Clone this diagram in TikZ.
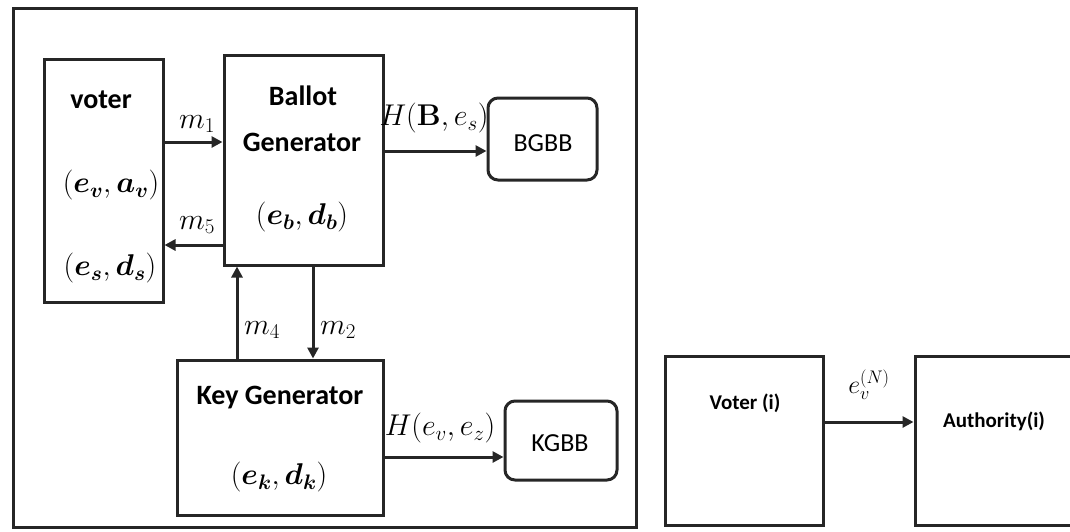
\RequirePackage{fix-cm}
\documentclass[tikz,border=0pt]{standalone}
\usepackage[no-math]{fontspec}
\usepackage{bm}
\setmainfont{Carlito}
\usetikzlibrary{arrows.meta}
\begin{document}
\begin{tikzpicture}[x=1pt,y=-1pt,
  box/.style={draw=black!85,line width=3pt,inner sep=0pt},
  rbox/.style={box,rounded corners=10pt},
  arr/.style={draw=black!85,line width=3pt,-{Triangle[length=11pt,width=11pt]}},
  lbl/.style={inner sep=0pt,font=\fontsize{30}{34}\selectfont},
  btxt/.style={inner sep=0pt,font=\fontsize{28}{32}\selectfont\bfseries},
  rtxt/.style={inner sep=0pt,font=\fontsize{26}{30}\selectfont},
  stxt/.style={inner sep=0pt,font=\fontsize{21}{25}\selectfont\bfseries},
]
\clip (0,0) rectangle (1070,531);
\useasboundingbox (0,0) rectangle (1070,531);
% outer frame
\node[box,minimum width=623pt,minimum height=519pt] (frame) at (324.5,267.5) {};
% boxes
\node[box,minimum width=119pt,minimum height=243pt] (voter) at (103.5,180.5) {};
\node[box,minimum width=159pt,minimum height=210pt] (bg) at (303.5,160) {};
\node[box,minimum width=206pt,minimum height=155pt] (kg) at (280,437.5) {};
\node[rbox,minimum width=109pt,minimum height=82pt] (bgbb) at (542.5,139) {};
\node[rbox,minimum width=112pt,minimum height=79pt] (kgbb) at (561,440.5) {};
\node[box,minimum width=158pt,minimum height=169pt] (vi) at (744,440.5) {};
\node[box,minimum width=170pt,minimum height=169pt] (auth) at (1000,440.5) {};
% box texts
\node[btxt] (tvoter) at (101,100) {voter};
\node[lbl] (tev) at (111,185) {$(\bm{e_v},\bm{a_v})$};
\node[lbl] (tes) at (110,268) {$(\bm{e_s},\bm{d_s})$};
\node[btxt] (tballot) at (303,96) {Ballot};
\node[btxt] (tgen) at (302,142) {Generator};
\node[lbl] (teb) at (302,217) {$(\bm{e_b},\bm{d_b})$};
\node[btxt] (tkg) at (280,398) {Key Generator};
\node[lbl] (tek) at (279,477) {$(\bm{e_k},\bm{d_k})$};
\node[rtxt] (tbgbb) at (543,143) {BGBB};
\node[rtxt] (tkgbb) at (560,443) {KGBB};
\node[stxt] (tvi) at (745,403) {Voter (i)};
\node[stxt] (tauth) at (994,421) {Authority(i)};
% connectors
\draw[arr] (voter.east |- 0,142) -- (bg.west |- 0,142);
\draw[arr] (bg.west |- 0,245) -- (voter.east |- 0,245);
\draw[arr] (kg.north -| 237,0) -- (bg.south -| 237,0);
\draw[arr] (bg.south -| 313,0) -- (kg.north -| 313,0);
\draw[arr] (bg.east |- 0,151) -- (bgbb.west |- 0,151);
\draw[arr] (kg.east |- 0,457) -- (kgbb.west |- 0,457);
\draw[arr] (vi.east |- 0,422) -- (auth.west |- 0,422);
% connector labels
\node[lbl] (lm1) at (197,124) {$m_1$};
\node[lbl] (lm5) at (197,225) {$m_5$};
\node[lbl] (lm4) at (262,330) {$m_4$};
\node[lbl] (lm2) at (338,330) {$m_2$};
\node[lbl] (lh1) at (434,118) {$H(\mathbf{B},e_s)$};
\node[lbl] (lh2) at (440,428) {$H(e_v,e_z)$};
\node[inner sep=0pt,font=\fontsize{26}{30}\selectfont] (lev) at (869,385) {$e_v^{(N)}$};
\end{tikzpicture}
\end{document}
